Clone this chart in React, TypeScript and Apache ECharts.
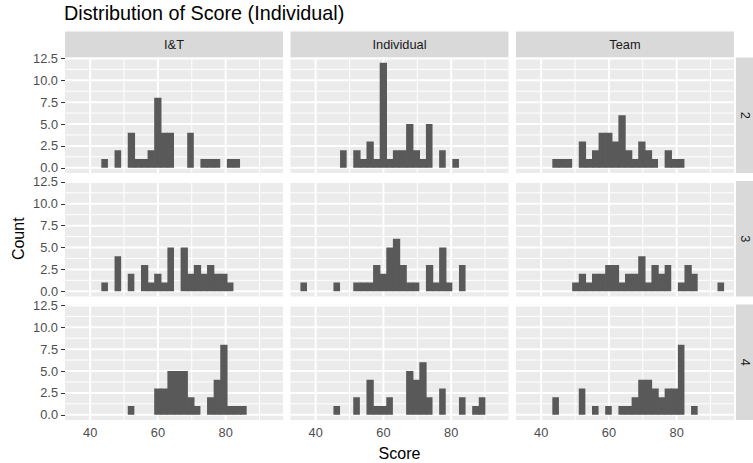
import React, { useEffect, useRef } from "react";
import * as echarts from "echarts";

// ---- data ----
const FORMATS = ["I&T", "Individual", "Team"];
const GROUPS = ["2", "3", "4"];
const BIN_START = 35.5;
const BIN_WIDTH = 1.95;
const X_TICKS = [40, 60, 80];
const X_MINOR = [50, 70, 90];
const Y_TICKS = [0, 2.5, 5, 7.5, 10, 12.5];
const Y_MINOR = [1.25, 3.75, 6.25, 8.75, 11.25];

// counts per bin (30 bins), by group (row) and format (column)
const IT_2 = [0,0,0,0,1,0,2,0,4,1,1,2,8,4,4,0,0,4,0,1,1,1,0,1,1,0,0,0,0,0];
const IND_2 = [0,0,0,0,0,0,2,0,2,1,3,1,12,1,2,2,5,2,1,5,0,2,0,1,0,0,0,0,0,0];
const TEAM_2 = [0,0,0,0,1,1,1,0,3,1,2,4,4,3,6,2,1,3,2,1,0,2,1,1,0,0,0,0,0,0];
const IT_3 = [0,0,0,0,1,0,4,0,2,0,3,1,2,1,5,0,5,2,3,2,3,2,2,1,0,0,0,0,0,0];
const IND_3 = [1,0,0,0,0,1,0,0,1,1,1,3,2,5,6,3,1,1,0,3,1,5,1,0,3,0,0,0,0,0];
const TEAM_3 = [0,0,0,0,0,0,0,1,2,1,2,2,3,3,1,2,2,4,1,3,2,3,0,1,3,2,0,0,0,1];
const IT_4 = [0,0,0,0,0,0,0,0,1,0,0,0,3,3,5,5,5,2,1,0,2,4,8,1,1,1,0,0,0,0];
const IND_4 = [0,0,0,0,0,1,0,0,2,0,4,1,1,2,0,0,5,4,6,2,0,3,0,0,2,0,1,2,0,0];
const TEAM_4 = [0,0,0,0,2,0,0,0,3,0,1,0,1,0,1,1,2,4,4,3,2,3,3,8,0,1,0,0,0,0];

const PANELS = [
  [IT_2, IND_2, TEAM_2],
  [IT_3, IND_3, TEAM_3],
  [IT_4, IND_4, TEAM_4],
];

// ---- layout ----
const FONT = "'Liberation Sans', Arial, sans-serif";
const COL_LEFT = [65, 290.5, 516];
const ROW_TOP = [57.5, 181, 304.5];
const PANEL_W = 218;
const PANEL_H = 115.5;

export default function App() {
  const ref = useRef<HTMLDivElement>(null);

  useEffect(() => {
    document.body.style.margin = "0";
    if (!ref.current) return;
    const chart = echarts.init(ref.current, undefined, { renderer: "svg" });

    const nBins = IT_2.length;
    const binEnd = BIN_START + nBins * BIN_WIDTH;
    const xr = binEnd - BIN_START;
    const XMIN = BIN_START - 0.05 * xr;
    const XMAX = binEnd + 0.05 * xr;
    let maxCount = 0;
    PANELS.forEach((row) => row.forEach((a) => a.forEach((v) => (maxCount = Math.max(maxCount, v)))));
    const YMIN = -0.05 * maxCount;
    const YMAX = maxCount * 1.05;

    const grids: any[] = [];
    const xAxes: any[] = [];
    const yAxes: any[] = [];
    const series: any[] = [];
    const graphics: any[] = [];

    const gridData: number[][] = [];
    X_TICKS.forEach((v) => gridData.push([v, 0, 1]));
    X_MINOR.forEach((v) => gridData.push([v, 0, 0]));
    Y_TICKS.forEach((v) => gridData.push([v, 1, 1]));
    Y_MINOR.forEach((v) => gridData.push([v, 1, 0]));

    for (let r = 0; r < 3; r++) {
      for (let c = 0; c < 3; c++) {
        const i = r * 3 + c;
        grids.push({
          left: COL_LEFT[c],
          top: ROW_TOP[r],
          width: PANEL_W,
          height: PANEL_H,
          show: true,
          backgroundColor: "#EBEBEB",
          borderWidth: 0,
        });
        const bottom = r === 2;
        const leftCol = c === 0;
        xAxes.push({
          gridIndex: i,
          type: "value",
          min: XMIN,
          max: XMAX,
          splitLine: { show: false },
          axisLine: { show: false },
          axisTick: {
            show: bottom,
            customValues: X_TICKS,
            length: 4,
            lineStyle: { color: "#333333", width: 1 },
          },
          axisLabel: {
            show: bottom,
            customValues: X_TICKS,
            color: "#4D4D4D",
            fontSize: 12.8,
            fontFamily: FONT,
            margin: 6,
          },
          ...(bottom && c === 1
            ? {
                name: "Score",
                nameLocation: "middle",
                nameGap: 25,
                nameTextStyle: { color: "#000000", fontSize: 16, fontFamily: FONT },
              }
            : {}),
        });
        yAxes.push({
          gridIndex: i,
          type: "value",
          min: YMIN,
          max: YMAX,
          splitLine: { show: false },
          axisLine: { show: false },
          axisTick: {
            show: leftCol,
            customValues: Y_TICKS,
            length: 4,
            lineStyle: { color: "#333333", width: 1 },
          },
          axisLabel: {
            show: leftCol,
            customValues: Y_TICKS,
            formatter: (v: number) => v.toFixed(1),
            color: "#4D4D4D",
            fontSize: 12.8,
            fontFamily: FONT,
            margin: 7,
          },
          ...(leftCol && r === 1
            ? {
                name: "Count",
                nameLocation: "middle",
                nameRotate: 90,
                nameGap: 39,
                nameTextStyle: { color: "#000000", fontSize: 16, fontFamily: FONT },
              }
            : {}),
        });

        series.push({
          type: "custom",
          xAxisIndex: i,
          yAxisIndex: i,
          z: 1,
          silent: true,
          data: gridData,
          renderItem: (params: any, api: any) => {
            const v = api.value(0);
            const o = api.value(1);
            const m = api.value(2);
            const cs = params.coordSys;
            const style = { stroke: "#FFFFFF", lineWidth: m ? 2 : 1 };
            if (o === 0) {
              const x = api.coord([v, 0])[0];
              return { type: "line", shape: { x1: x, y1: cs.y, x2: x, y2: cs.y + cs.height }, style };
            }
            const y = api.coord([XMIN, v])[1];
            return { type: "line", shape: { x1: cs.x, y1: y, x2: cs.x + cs.width, y2: y }, style };
          },
        });

        const counts = PANELS[r][c];
        series.push({
          type: "custom",
          name: `${FORMATS[c]} / ${GROUPS[r]}`,
          xAxisIndex: i,
          yAxisIndex: i,
          z: 2,
          data: counts.map((n, k) => [BIN_START + (k + 0.5) * BIN_WIDTH, n, counts[k + 1] || 0]),
          renderItem: (params: any, api: any) => {
            const xc = api.value(0);
            const n = api.value(1);
            const next = api.value(2);
            if (!n) return null;
            const p0 = api.coord([xc - BIN_WIDTH / 2, n]);
            const p1 = api.coord([xc + BIN_WIDTH / 2, 0]);
            const overlap = next ? 0.7 : 0;
            return {
              type: "rect",
              shape: { x: p0[0], y: p0[1], width: p1[0] - p0[0] + overlap, height: p1[1] - p0[1] },
              style: { fill: "#595959" },
            };
          },
        });
      }
    }

    // top strips
    FORMATS.forEach((f, c) => {
      graphics.push({
        type: "rect",
        shape: { x: COL_LEFT[c], y: 31.5, width: PANEL_W, height: 26 },
        style: { fill: "#D9D9D9" },
        silent: true,
      });
      graphics.push({
        type: "text",
        x: COL_LEFT[c] + PANEL_W / 2,
        y: 44.5,
        style: {
          text: f,
          fill: "#1A1A1A",
          font: `12.8px ${FONT}`,
          textAlign: "center",
          textVerticalAlign: "middle",
        },
        silent: true,
      });
    });
    // right strips
    GROUPS.forEach((g, r) => {
      graphics.push({
        type: "rect",
        shape: { x: 736, y: ROW_TOP[r], width: 20, height: PANEL_H },
        style: { fill: "#D9D9D9" },
        silent: true,
      });
      graphics.push({
        type: "text",
        x: 745,
        y: ROW_TOP[r] + PANEL_H / 2,
        rotation: -Math.PI / 2,
        style: {
          text: g,
          fill: "#1A1A1A",
          font: `12.8px ${FONT}`,
          textAlign: "center",
          textVerticalAlign: "middle",
        },
        silent: true,
      });
    });

    chart.setOption({
      animation: false,
      backgroundColor: "#FFFFFF",
      title: {
        text: "Distribution of Score (Individual)",
        left: 64,
        top: 3,
        padding: 0,
        textStyle: { color: "#000000", fontSize: 19.8, fontWeight: "normal", fontFamily: FONT },
      },
      grid: grids,
      xAxis: xAxes,
      yAxis: yAxes,
      series,
      graphic: graphics,
    });

    return () => chart.dispose();
  }, []);

  return <div ref={ref} style={{ width: 753, height: 463 }} />;
}
